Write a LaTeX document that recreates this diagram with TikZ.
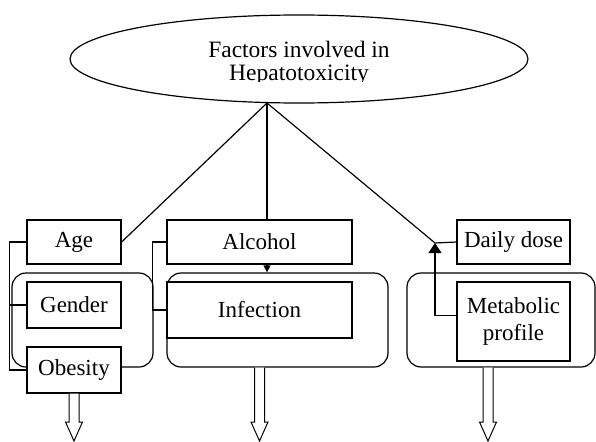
\documentclass[tikz,border=0pt]{standalone}
\usepackage{fontspec}
\setmainfont{Liberation Serif}
\usetikzlibrary{shapes.geometric,arrows.meta}

\tikzset{
  box/.style={draw, fill=white, line width=1.2pt, inner sep=0pt, align=center},
  group/.style={draw, rounded corners=14pt, line width=1.2pt, inner sep=0pt},
  link/.style={line width=1.2pt},
  hollow/.style={line width=1pt, fill=white},
  title/.style={anchor=base, inner sep=0pt, font=\fontsize{23.5}{23.5}\selectfont},
}
\newcommand{\hollowarrow}[2]{%
\draw[hollow] ([xshift=-5pt]#1) -- ([xshift=-5pt,yshift=19pt]#2)
  -- ([xshift=-8.5pt,yshift=19pt]#2) -- (#2)
  -- ([xshift=8.5pt,yshift=19pt]#2) -- ([xshift=5pt,yshift=19pt]#2)
  -- ([xshift=5pt]#1);}

\begin{document}
\begin{tikzpicture}[x=1pt, y=-1pt, font=\fontsize{23}{27}\selectfont]
\useasboundingbox (0,0) rectangle (596,441);

% top
\node[ellipse, draw, line width=1.2pt, minimum width=458pt, minimum height=88pt] (top) at (299,59) {};
\node[title] (title1) at (299,58) {Factors involved in};
\begin{scope}
\clip (80,20) rectangle (520,82);
\node[title] (title2) at (299,81) {Hepatotoxicity};
\end{scope}
\coordinate (hub) at (267,103);

% groups
\node[group, minimum width=141pt, minimum height=94pt] (leftgrp) at (82.5,320) {};
\node[group, minimum width=221pt, minimum height=94pt] (midgrp) at (277.5,320) {};
\node[group, minimum width=188pt, minimum height=94pt] (rightgrp) at (501,320) {};

% factors
\node[box, minimum width=94pt, minimum height=44pt] (age) at (74,242) {Age};
\node[box, minimum width=94pt, minimum height=46pt] (gender) at (74,305) {Gender};
\node[box, minimum width=94pt, minimum height=46pt] (obesity) at (74,370) {Obesity};
\node[box, minimum width=185pt, minimum height=44pt] (alcohol) at (259.5,242) {Alcohol};
\node[box, minimum width=185pt, minimum height=56pt] (infection) at (259.5,310) {Infection};
\node[box, minimum width=113pt, minimum height=44pt] (dose) at (513.5,242) {Daily dose};
\node[box, minimum width=113pt, minimum height=79pt] (metab) at (513.5,321.5) {Metabolic\\profile};
\coordinate (junc) at (435,243);

% connectors
\draw[link] (hub) -- (age.east);
\draw[link] (hub) -- (alcohol.north -| hub);
\draw[link] (hub) -- (junc);
\draw[link, -{Triangle[length=7pt,width=7pt]}] (alcohol.south -| hub) -- (midgrp.north -| hub);
\draw[link] (age.west) -- ++(-17,0) |- (obesity.west);
\draw[link] (gender.west) -- ++(-17,0);
\draw[link] (alcohol.west) -- ++(-14,0) |- (infection.west);
\draw[link] (dose.west) -- (junc);
\draw[link, -{Triangle[length=10pt,width=13pt]}] ([yshift=6pt]metab.west) -| (junc);

% outputs
\coordinate (out1) at (obesity.south |- 0,441);
\coordinate (out2) at (infection.south |- 0,441);
\coordinate (out3) at (488,441);
\hollowarrow{obesity.south}{out1}
\hollowarrow{infection.south |- midgrp.south}{out2}
\hollowarrow{out3 |- rightgrp.south}{out3}
\end{tikzpicture}
\end{document}
